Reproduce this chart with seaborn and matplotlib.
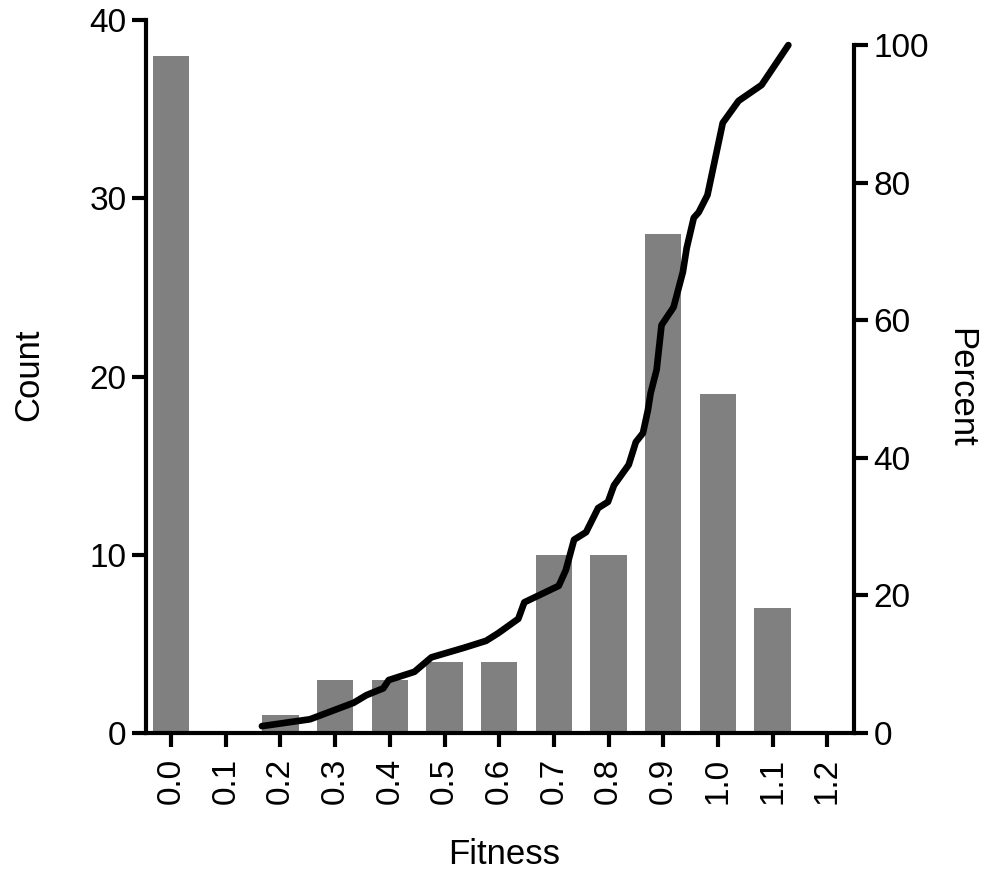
import matplotlib
matplotlib.use("Agg")
import matplotlib.pyplot as plt
import seaborn as sns
import pandas as pd

# Histogram of fitness values (bin centres and counts)
fitness_bins = [0.0, 0.1, 0.2, 0.3, 0.4, 0.5, 0.6, 0.7, 0.8, 0.9, 1.0, 1.1]
counts = [38, 0, 1, 3, 3, 4, 4, 10, 10, 28, 19, 7]

# Cumulative percentage of the non-zero fitness values
cum_fitness = [0.166, 0.254, 0.334, 0.357, 0.388, 0.398, 0.445, 0.476, 0.536,
               0.576, 0.598, 0.635, 0.646, 0.709, 0.722, 0.737, 0.759, 0.781,
               0.799, 0.810, 0.837, 0.850, 0.863, 0.872, 0.877, 0.888, 0.897,
               0.919, 0.936, 0.943, 0.956, 0.965, 0.981, 1.009, 1.038, 1.080,
               1.129]
cum_percent = [1.0, 2.0, 4.4, 5.5, 6.5, 7.7, 8.9, 11.0, 12.4, 13.4, 14.5, 16.6,
               19.0, 21.4, 23.7, 28.1, 29.2, 32.7, 33.6, 36.0, 39.0, 42.3, 43.6,
               46.9, 49.4, 52.8, 59.3, 61.9, 67.0, 70.5, 74.9, 75.7, 78.2, 88.7,
               91.9, 94.2, 100.0]

x_ticks = [0.0, 0.1, 0.2, 0.3, 0.4, 0.5, 0.6, 0.7, 0.8, 0.9, 1.0, 1.1, 1.2]
x_tick_labels = ["0.0", "0.1", "0.2", "0.3", "0.4", "0.5", "0.6", "0.7", "0.8",
                 "0.9", "1.0", "1.1", "1.2"]
count_ticks = [0, 10, 20, 30, 40]
percent_ticks = [0, 20, 40, 60, 80, 100]

sns.set_style("ticks")
plt.rcParams["font.family"] = ["Liberation Sans", "DejaVu Sans"]
plt.rcParams["text.color"] = "black"
plt.rcParams["axes.labelcolor"] = "black"
plt.rcParams["axes.edgecolor"] = "black"

hist_df = pd.DataFrame({"Fitness": fitness_bins, "Count": counts})
cum_df = pd.DataFrame({"Fitness": cum_fitness, "Percent": cum_percent})

fig = plt.figure(figsize=(9.96, 8.74), dpi=100)
ax = fig.add_axes([0.1466, 0.1613, 0.7108, 0.8157])

sns.barplot(data=hist_df, x="Fitness", y="Count", native_scale=True,
            width=0.66, color="#808080", saturation=1, errorbar=None,
            edgecolor="none", linewidth=0, ax=ax)

ax2 = ax.twinx()
sns.lineplot(data=cum_df, x="Fitness", y="Percent", sort=False, color="black",
             linewidth=4.8, solid_capstyle="round", solid_joinstyle="round",
             ax=ax2)

lw = 3.0
tick_font = 24

ax.set_xlim(-0.046, 1.249)
ax.set_ylim(0, 40)
ax2.set_ylim(0, 100 * 713 / 688)

ax.set_xticks(x_ticks)
ax.set_xticklabels(x_tick_labels, rotation=90, fontsize=tick_font)
ax.set_yticks(count_ticks)
ax.set_yticklabels([str(v) for v in count_ticks], fontsize=tick_font)
ax2.set_yticks(percent_ticks)
ax2.set_yticklabels([str(v) for v in percent_ticks], fontsize=tick_font)

for spine in ["top", "right"]:
    ax.spines[spine].set_visible(False)
for spine in ["top", "left", "bottom"]:
    ax2.spines[spine].set_visible(False)
for spine in [ax.spines["left"], ax.spines["bottom"], ax2.spines["right"]]:
    spine.set_linewidth(lw)
    spine.set_color("black")
ax2.spines["right"].set_bounds(0, 100)

ax.tick_params(axis="both", width=lw, length=10, color="black",
               labelcolor="black")
ax.tick_params(axis="x", pad=8)
ax.tick_params(axis="y", pad=4)
ax2.tick_params(axis="y", width=lw, length=10, color="black",
                labelcolor="black", pad=4)

ax.set_xlabel("Fitness", fontsize=25, va="center", color="black")
ax.xaxis.set_label_coords(0.506, -0.171)
ax.set_ylabel("Count", fontsize=25, va="center", color="black")
ax.yaxis.set_label_coords(-0.165, 0.502)
ax2.set_ylabel("Percent", fontsize=25, rotation=270, va="center", color="black")
ax2.yaxis.set_label_coords(1.151, 0.484)

ax.set_zorder(1)
ax2.set_zorder(2)
ax2.patch.set_visible(False)

fig.savefig("out.png", dpi=100, facecolor="white")
